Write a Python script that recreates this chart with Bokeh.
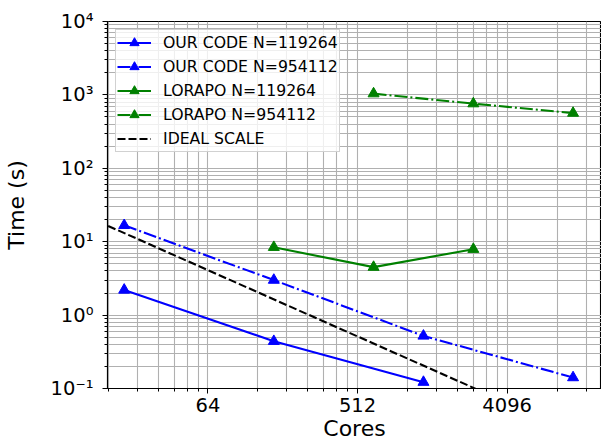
from bokeh.plotting import figure
from bokeh.embed import file_html
from bokeh.resources import INLINE
from bokeh.models import (CustomJSTickFormatter, FixedTicker, Legend, LegendItem,
                          Range1d)

# ---- data ----
ours_small_cores = [20, 160, 1280]
ours_small_time = [2.2, 0.44, 0.122]
ours_large_cores = [20, 160, 1280, 10240]
ours_large_time = [16.7, 3.0, 0.52, 0.141]
lorapo_small_cores = [160, 640, 2560]
lorapo_small_time = [8.4, 4.5, 7.9]
lorapo_large_cores = [640, 2560, 10240]
lorapo_large_time = [1040, 760, 565]
ideal_cores = [16, 4096]
ideal_time = [16.4, 0.064]

x_major = [64, 512, 4096]
y_major = [0.1, 1, 10, 100, 1000, 10000]

labels = ["OUR CODE N=119264", "OUR CODE N=954112", "LORAPO N=119264",
          "LORAPO N=954112", "IDEAL SCALE"]

FONT = "DejaVu Sans"

x_minor = [k * 8 ** n for n in range(1, 5) for k in range(2, 8)]
y_minor = [k * 10.0 ** n for n in range(-1, 4) for k in range(2, 10)]

p = figure(width=601, height=445, x_axis_type="log", y_axis_type="log",
           x_range=Range1d(15.86, 15200), y_range=Range1d(0.1, 10000),
           output_backend="svg", toolbar_location=None,
           min_border_left=104, min_border_right=0, min_border_top=21,
           min_border_bottom=57)

p.outline_line_color = "black"
p.outline_line_width = 1.1
p.background_fill_color = "white"
p.border_fill_color = "white"

p.xaxis.ticker = FixedTicker(ticks=x_major, minor_ticks=x_minor)
p.yaxis.ticker = FixedTicker(ticks=y_major, minor_ticks=y_minor)
p.xaxis.formatter = CustomJSTickFormatter(code="return String(Math.round(tick));")
p.yaxis.formatter = CustomJSTickFormatter(code="""
const e = Math.round(Math.log10(tick));
const sup = {'-':'\u207b','0':'\u2070','1':'\u00b9','2':'\u00b2','3':'\u00b3',
             '4':'\u2074','5':'\u2075','6':'\u2076','7':'\u2077','8':'\u2078','9':'\u2079'};
return '10' + String(e).split('').map(c => sup[c]).join('');
""")

for ax in (p.xaxis[0], p.yaxis[0]):
    ax.major_label_text_font = FONT
    ax.major_label_text_font_size = "19.5px"
    ax.major_label_text_color = "black"
    ax.axis_label_text_font = FONT
    ax.axis_label_text_font_size = "22px"
    ax.axis_label_text_font_style = "normal"
    ax.axis_label_text_color = "black"
    ax.axis_line_color = "black"
    ax.axis_line_width = 1.1
    ax.major_tick_in = 0
    ax.major_tick_out = 5
    ax.minor_tick_in = 0
    ax.minor_tick_out = 3
    ax.major_tick_line_color = "black"
    ax.minor_tick_line_color = "black"

p.xaxis.major_label_standoff = 4
p.xaxis.axis_label_standoff = 1
p.yaxis.major_label_standoff = 9
p.yaxis.axis_label_standoff = 19

p.xaxis.axis_label = "Cores"
p.yaxis.axis_label = "Time (s)"

for g in (p.xgrid[0], p.ygrid[0]):
    g.grid_line_color = "#b0b0b0"
    g.grid_line_width = 1.1
    g.minor_grid_line_color = "#b0b0b0"
    g.minor_grid_line_width = 1.1

DASHDOT = "13 3 2 3"
DASHED = "8 3"

series = [
    (ours_small_cores, ours_small_time, "blue", "solid"),
    (ours_large_cores, ours_large_time, "blue", DASHDOT),
    (lorapo_small_cores, lorapo_small_time, "green", "solid"),
    (lorapo_large_cores, lorapo_large_time, "green", DASHDOT),
]

items = []
for (xs, ys, col, dash), lab in zip(series, labels):
    l = p.line(xs, ys, line_color=col, line_width=2.1, line_dash=dash)
    m = p.scatter(xs, ys, marker="triangle", size=11, fill_color=col,
                  line_color=col)
    items.append(LegendItem(label=lab, renderers=[l, m]))

li = p.line(ideal_cores, ideal_time, line_color="black", line_width=2.1,
            line_dash=DASHED)
items.append(LegendItem(label=labels[4], renderers=[li]))

legend = Legend(items=items, location="top_left")
legend.margin = 8
legend.padding = 1
legend.spacing = 1
legend.glyph_width = 34
legend.glyph_height = 23
legend.label_height = 23
legend.label_standoff = 12
legend.label_text_font = FONT
legend.label_text_font_size = "15.7px"
legend.label_text_color = "black"
legend.border_line_color = "#cccccc"
legend.border_line_alpha = 0.9
legend.background_fill_color = "white"
legend.background_fill_alpha = 0.8
p.add_layout(legend)

open("out.html", "w").write(file_html(p, INLINE))
